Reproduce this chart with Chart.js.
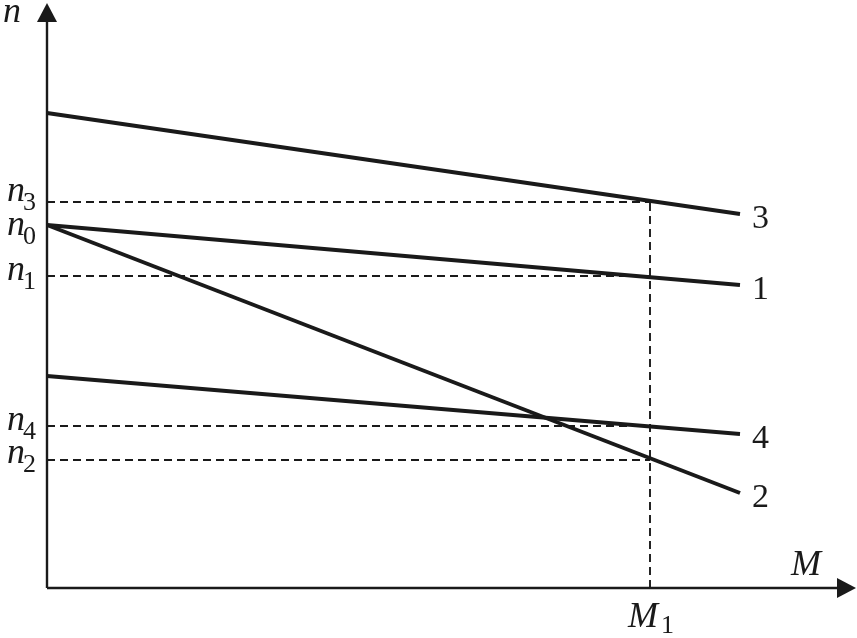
<!DOCTYPE html>
<html>
<head>
<meta charset="utf-8">
<script src="https://cdn.jsdelivr.net/npm/chart.js@4/dist/chart.umd.min.js"></script>
<style>
  html, body { margin: 0; padding: 0; background: #fff; }
  canvas { display: block; }
</style>
</head>
<body>
<canvas id="chart" width="857" height="638"></canvas>
<script>
// torque axis M (start / end of each characteristic)
const mPoints = [0, 693];
const M1 = 603;

// speed n for characteristics 1..4 at mPoints
const line1 = [363, 303];
const line2 = [363, 95];
const line3 = [475, 374];
const line4 = [212, 154];
const lineNames = ['1', '2', '3', '4'];

// speed levels marked on the n axis
const nLabels = ['n3', 'n0', 'n1', 'n4', 'n2'];
const nValues = [386, 363, 312, 162, 128];

const xMax = 809;
const yMax = 585;

const INK = '#1a1a1a';
const SERIF = '"Liberation Serif", "DejaVu Serif", serif';

const toPts = ys => mPoints.map((x, i) => ({ x: x, y: ys[i] }));

const solidSet = (ys, name) => ({
    label: name,
    data: toPts(ys),
    borderColor: INK,
    borderWidth: 4,
    pointRadius: 0,
    tension: 0,
    clip: false,
    order: 1
});

const dashSet = pts => ({
    data: pts,
    borderColor: INK,
    borderWidth: 1.9,
    borderDash: [8, 5],
    pointRadius: 0,
    clip: false,
    order: 2
});

const datasets = [
    solidSet(line1, '1'),
    solidSet(line2, '2'),
    solidSet(line3, '3'),
    solidSet(line4, '4')
];
// dashed guides: horizontal from n-level to M1, vertical at M1
nValues.forEach((v, i) => {
    if (nLabels[i] === 'n0') return;
    datasets.push(dashSet([{ x: 0, y: v }, { x: M1, y: v }]));
});
datasets.push(dashSet([{ x: M1, y: 0 }, { x: M1, y: Math.max(...nValues) }]));

// label offsets (px) so the subscripts don't collide
const nLabelDy = { n3: -1, n0: 10, n1: 4, n4: 4, n2: 3 };

const axesAndText = {
    id: 'axesAndText',
    afterDatasetsDraw(chart) {
        const ctx = chart.ctx;
        const xs = chart.scales.x, ys = chart.scales.y;
        const x0 = xs.getPixelForValue(0), y0 = ys.getPixelForValue(0);
        const xEnd = xs.getPixelForValue(xMax), yEnd = ys.getPixelForValue(yMax);

        ctx.save();
        ctx.strokeStyle = INK;
        ctx.fillStyle = INK;
        ctx.lineWidth = 2.4;
        ctx.setLineDash([]);
        ctx.beginPath();
        ctx.moveTo(x0, y0);
        ctx.lineTo(x0, yEnd + 15);
        ctx.moveTo(x0, y0);
        ctx.lineTo(xEnd - 15, y0);
        ctx.stroke();

        // arrow heads
        ctx.beginPath();
        ctx.moveTo(x0, yEnd);
        ctx.lineTo(x0 - 10, yEnd + 19);
        ctx.lineTo(x0 + 10, yEnd + 19);
        ctx.closePath();
        ctx.fill();
        ctx.beginPath();
        ctx.moveTo(xEnd, y0);
        ctx.lineTo(xEnd - 19, y0 - 10);
        ctx.lineTo(xEnd - 19, y0 + 10);
        ctx.closePath();
        ctx.fill();

        // axis names
        ctx.textBaseline = 'alphabetic';
        ctx.font = 'italic 36px ' + SERIF;
        ctx.textAlign = 'left';
        ctx.fillText('n', 3, 22);
        ctx.fillText('M', 791, 575);

        // n-levels with subscripts, right aligned next to the axis
        nLabels.forEach((lab, i) => {
            const py = ys.getPixelForValue(nValues[i]) + nLabelDy[lab];
            ctx.font = '26px ' + SERIF;
            const sub = lab.slice(1);
            const sw = ctx.measureText(sub).width;
            const right = x0 - 11;
            ctx.textAlign = 'left';
            ctx.fillText(sub, right - sw, py + 9);
            ctx.font = 'italic 36px ' + SERIF;
            const nw = ctx.measureText('n').width;
            ctx.fillText('n', right - sw - nw + 2, py);
        });

        // M1 under the x axis
        const mx = xs.getPixelForValue(M1);
        ctx.font = 'italic 36px ' + SERIF;
        ctx.textAlign = 'left';
        ctx.fillText('M', mx - 22, 627);
        ctx.font = '26px ' + SERIF;
        ctx.fillText('1', mx + 11, 633);

        // line numbers at the right end of each characteristic
        ctx.font = '34px ' + SERIF;
        ctx.textBaseline = 'middle';
        [line1, line2, line3, line4].forEach((ys_, i) => {
            const px = xs.getPixelForValue(mPoints[mPoints.length - 1]) + 12;
            const py = ys.getPixelForValue(ys_[ys_.length - 1]) + 5;
            ctx.fillText(lineNames[i], px, py);
        });
        ctx.restore();
    }
};

new Chart(document.getElementById('chart'), {
    type: 'line',
    data: { datasets: datasets },
    options: {
        responsive: false,
        animation: false,
        layout: { padding: { left: 47, top: 3, right: 1, bottom: 50 } },
        plugins: { legend: { display: false }, tooltip: { enabled: false } },
        scales: {
            x: { type: 'linear', min: 0, max: xMax, display: false },
            y: { type: 'linear', min: 0, max: yMax, display: false }
        }
    },
    plugins: [axesAndText]
});
</script>
</body>
</html>
